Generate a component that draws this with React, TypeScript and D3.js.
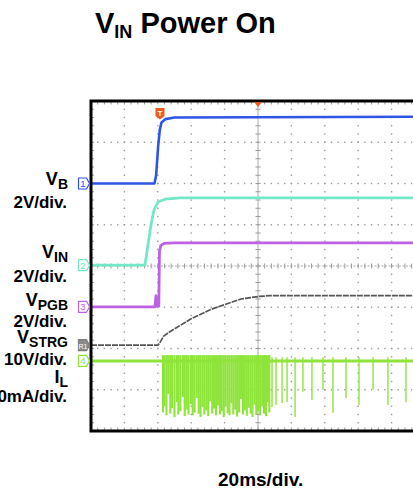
import React from "react";
import * as d3 from "d3";

// ---- data (time in ms, value in divisions from screen centre) ----
const timeDomain: [number, number] = [0, 200];
const divDomain: [number, number] = [-4, 4];
const timePerDiv = 20;

const vbTrace: [number, number][] = [
  [0, 2.0], [38.0, 2.0], [39.0, 2.2], [40.2, 2.9], [41.2, 3.3], [42.2, 3.48], [44.5, 3.56], [50, 3.6], [200, 3.62],
];
const vinTrace: [number, number][] = [
  [0, 0.02], [32.3, 0.02], [34.1, 0.5], [35.9, 0.99], [37.7, 1.36], [40.1, 1.55], [44.3, 1.62], [53.3, 1.65], [200, 1.65],
];
const vpgbTrace: [number, number][] = [
  [0, -0.99], [38.3, -0.99], [38.9, -0.72], [39.3, -0.97], [40.6, -0.97], [41.0, 0.35], [41.8, 0.5], [44, 0.55], [50, 0.56], [200, 0.56],
];
const vstrgTrace: [number, number][] = [
  [0, -1.92], [40.1, -1.92], [41.5, -1.84], [43.5, -1.7], [47, -1.6], [59.9, -1.28], [71.9, -1.05], [89.8, -0.8], [100, -0.74], [107, -0.72], [200, -0.72],
];
const ilBaseline = -2.3;
const ilSpikeTop = -2.16;
const ilDenseSpikes: [number, number][] = [
  [43.1, -3.55], [44.0, -3.40], [45.2, -3.62], [46.3, -3.10], [47.5, -3.58], [48.6, -3.45], [50.0, -3.66], [51.4, -3.30],
  [52.3, -3.60], [53.5, -3.52], [55.0, -3.18], [56.1, -3.64], [57.3, -3.48], [58.4, -3.60], [59.8, -3.35], [60.9, -3.62],
  [62.0, -3.55], [63.3, -3.20], [64.5, -3.58], [65.6, -3.66], [66.8, -3.42], [67.9, -3.60], [69.1, -3.50], [70.2, -3.64],
  [71.4, -3.28], [72.6, -3.58], [73.7, -3.46], [74.9, -3.62], [76.0, -3.38], [77.2, -3.60], [78.3, -3.52], [79.5, -3.66],
  [80.6, -3.40], [81.8, -3.57], [82.9, -3.62], [84.1, -3.33], [85.2, -3.60], [86.4, -3.48], [87.5, -3.65], [88.7, -3.55],
  [89.8, -3.22], [91.0, -3.60], [92.1, -3.50], [93.3, -3.63], [94.4, -3.44], [95.6, -3.58], [96.7, -3.66], [97.9, -3.36],
  [99.0, -3.60], [100.2, -3.52], [101.3, -3.62], [102.5, -3.40], [103.6, -3.58], [104.8, -3.64], [105.9, -3.30], [106.8, -3.55],
];
const ilSparseSpikes: [number, number][] = [
  [108.4, -3.42], [110.8, -3.37], [114.4, -3.32], [117.4, -3.30], [122.2, -3.66], [126.9, -3.05], [132.3, -3.25],
  [138.9, -3.0], [144.9, -3.56], [152.7, -3.2], [160.5, -3.37], [168.9, -3.0], [177.8, -3.37], [188.6, -3.30],
];
const triggerTime = 41.3;
const triggerPosTime = 100;

const channelNames = ["1", "2", "3", "R1", "4"];
const channelOffsets = [2.0, 0.02, -0.99, -1.92, -2.3];
const channelColors = ["#2f55e6", "#74e7c9", "#bd62e6", "#7d7d7d", "#8fe43c"];

const labelMain = ["V", "V", "V", "V", "I"];
const labelSub = ["B", "IN", "PGB", "STRG", "L"];
const labelScale = ["2V/div.", "2V/div.", "2V/div.", "10V/div.", "20mA/div."];
const titleMain = "V";
const titleSub = "IN";
const titleRest = " Power On";
const timeLabel = "20ms/div.";

export default function App() {
  const W = 413, H = 494;
  const x = d3.scaleLinear().domain(timeDomain).range([91, 425]);
  const y = d3.scaleLinear().domain(divDomain).range([431, 101]);
  const line = d3.line<[number, number]>().x((d) => x(d[0])).y((d) => y(d[1]));
  const font = "'Liberation Sans', Arial, Helvetica, sans-serif";

  const nDivX = (timeDomain[1] - timeDomain[0]) / timePerDiv;
  const dots: JSX.Element[] = [];
  for (let k = 1; k < nDivX; k++) {
    if (k === 5) continue;
    for (let m = 0; m <= 40; m++) {
      const yy = y(-4 + m * 0.2);
      dots.push(<rect key={`v${k}-${m}`} x={x(k * timePerDiv) - 0.7} y={yy - 0.7} width={1.4} height={1.4} fill="#9a9a9a" />);
    }
  }
  for (let j = -3; j <= 3; j++) {
    if (j === 0) continue;
    for (let m = 0; m <= 50; m++) {
      const xx = x(m * timePerDiv / 5);
      dots.push(<rect key={`h${j}-${m}`} x={xx - 0.7} y={y(j) - 0.7} width={1.4} height={1.4} fill="#9a9a9a" />);
    }
  }
  const ticks: JSX.Element[] = [];
  for (let m = 0; m <= 40; m++) {
    const yy = y(-4 + m * 0.2);
    ticks.push(<line key={`cv${m}`} x1={x(100) - 2.5} x2={x(100) + 2.5} y1={yy} y2={yy} stroke="#9a9a9a" strokeWidth={1} />);
    ticks.push(<line key={`lv${m}`} x1={x(0)} x2={x(0) + 3} y1={yy} y2={yy} stroke="#9a9a9a" strokeWidth={1} />);
  }
  for (let m = 0; m <= 50; m++) {
    const xx = x(m * timePerDiv / 5);
    ticks.push(<line key={`ch${m}`} x1={xx} x2={xx} y1={y(0) - 2.5} y2={y(0) + 2.5} stroke="#9a9a9a" strokeWidth={1} />);
    ticks.push(<line key={`tb${m}`} x1={xx} x2={xx} y1={y(4)} y2={y(4) + 3.5} stroke="#9a9a9a" strokeWidth={1} />);
    ticks.push(<line key={`bb${m}`} x1={xx} x2={xx} y1={y(-4)} y2={y(-4) - 3.5} stroke="#9a9a9a" strokeWidth={1} />);
  }

  const labelPos = [
    [185, 208], [258, 282], [306, 327], [343, 365], [383, 402],
  ];

  return (
    <div style={{ position: "absolute", left: 0, top: 0 }}>
      <svg width={W} height={H} style={{ display: "block", background: "#fff" }}>
        <defs>
          <clipPath id="plot">
            <rect x={x(0)} y={y(4)} width={x(200) - x(0)} height={y(-4) - y(4)} />
          </clipPath>
        </defs>
        <text x={95} y={33} fontFamily={font} fontWeight="bold" fontSize={29} fill="#000">
          {titleMain}
          <tspan fontSize={18} dy={5}>{titleSub}</tspan>
          <tspan dy={-5}>{titleRest}</tspan>
        </text>

        <g>{dots}</g>
        <line x1={x(100)} x2={x(100)} y1={y(4)} y2={y(-4)} stroke="#a8a8a8" strokeWidth={1} />
        <line x1={x(0)} x2={x(200)} y1={y(0)} y2={y(0)} stroke="#a8a8a8" strokeWidth={1} strokeDasharray="2,1.5" />
        <g>{ticks}</g>

        <g clipPath="url(#plot)" fill="none" strokeLinejoin="round">
          <path d={line(vinTrace) || ""} stroke={channelColors[1]} strokeWidth={2.8} />
          <path d={line(vbTrace) || ""} stroke={channelColors[0]} strokeWidth={2.6} />
          <path d={line(vstrgTrace) || ""} stroke="#555" strokeWidth={1.7} strokeDasharray="6,1" />
          <path d={line(vpgbTrace) || ""} stroke={channelColors[2]} strokeWidth={2.8} />
          <path d={line([[timeDomain[0], ilBaseline], [timeDomain[1], ilBaseline]]) || ""} stroke={channelColors[4]} strokeWidth={3} />
          {ilDenseSpikes.map((s, i) => (
            <line key={`d${i}`} x1={x(s[0])} x2={x(s[0])} y1={y(ilSpikeTop)} y2={y(s[1])} stroke={channelColors[4]} strokeWidth={2.1} />
          ))}
          {ilSparseSpikes.map((s, i) => (
            <line key={`s${i}`} x1={x(s[0])} x2={x(s[0])} y1={y(ilSpikeTop - 0.05)} y2={y(s[1])} stroke={channelColors[4]} strokeWidth={1.4} />
          ))}
        </g>

        <rect x={x(0)} y={y(4)} width={x(200) - x(0)} height={y(-4) - y(4)} fill="none" stroke="#000" strokeWidth={3} />

        <path d={`M${x(triggerPosTime) - 4},${y(4) + 1} h8 l-4,5 z`} fill="#f05a1e" />
        <path d={`M${x(triggerTime) - 4.5},${y(4) + 7} h9 v8 l-4.5,3.5 l-4.5,-3.5 z`} fill="#f05a1e" />
        <text x={x(triggerTime)} y={y(4) + 15} textAnchor="middle" fontFamily={font} fontWeight="bold" fontSize={8} fill="#fff">T</text>

        {channelNames.map((n, i) => {
          const yc = y(channelOffsets[i]);
          const isRef = n === "R1";
          return (
            <g key={`m${i}`}>
              <path
                d={`M78.5,${yc - 5.5} h8 l3,5.5 l-3,5.5 h-8 z`}
                fill={isRef ? "#8a8a8a" : "#fff"}
                stroke={channelColors[i]}
                strokeWidth={1.2}
                strokeLinejoin="round"
              />
              <text x={83} y={yc + 3.5} textAnchor="middle" fontFamily={font} fontSize={isRef ? 7 : 9.5}
                fill={isRef ? "#fff" : channelColors[i]}>{n}</text>
            </g>
          );
        })}

        {labelMain.map((m, i) => (
          <g key={`l${i}`} fontFamily={font} fontWeight="bold" fill="#000">
            <text x={68} y={labelPos[i][0]} textAnchor="end" fontSize={18}>
              {m}
              <tspan fontSize={14} dy={4}>{labelSub[i]}</tspan>
            </text>
            <text x={67} y={labelPos[i][1]} textAnchor="end" fontSize={17}>{labelScale[i]}</text>
          </g>
        ))}

        <text x={218} y={486} fontFamily={font} fontWeight="bold" fontSize={19} fill="#000">{timeLabel}</text>
      </svg>
    </div>
  );
}
